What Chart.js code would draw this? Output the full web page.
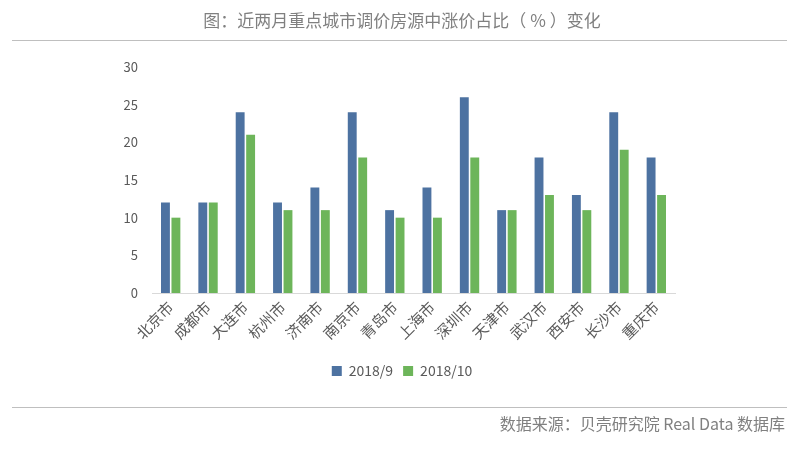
<!DOCTYPE html>
<html>
<head>
<meta charset="utf-8">
<script src="https://cdn.jsdelivr.net/npm/chart.js@4/dist/chart.umd.min.js"></script>
<style>
  html, body { margin:0; padding:0; background:#fff; }
  #wrap { position:relative; width:804px; height:449px; overflow:hidden; }
  #c { position:absolute; left:0; top:0; }
  .title { position:absolute; left:0; width:804px; top:9px; text-align:center; font-family:"Noto Sans CJK SC", sans-serif; font-size:17px; color:#808080; line-height:22px; }
  .hl { position:absolute; height:1px; background:#bfbfbf; }
  .foot { position:absolute; right:19px; top:412px; font-family:"Noto Sans CJK SC", sans-serif; font-size:16px; color:#808080; line-height:22px; }
</style>
</head>
<body>
<div id="wrap">
  <canvas id="c" width="804" height="449"></canvas>
  <div class="title">图：近两月重点城市调价房源中涨价占比（ % ）变化</div>
  <div class="hl" style="left:12px; width:775px; top:40px;"></div>
  <div class="hl" style="left:12px; width:775px; top:407px;"></div>
  <div class="foot">数据来源：贝壳研究院 Real Data 数据库</div>
</div>
<script>
const categories = ["北京市","成都市","大连市","杭州市","济南市","南京市","青岛市","上海市","深圳市","天津市","武汉市","西安市","长沙市","重庆市"];
const seriesNames = ["2018/9","2018/10"];
const sep2018 = [12,12,24,12,14,24,11,14,26,11,18,13,24,18];
const oct2018 = [10,12,21,11,11,18,10,10,18,11,13,11,19,13];
const yTicks = [0,5,10,15,20,25,30];

const font = "'Noto Sans CJK SC', sans-serif";
const centerLegend = {
  id: 'centerLegend',
  afterLayout(chart) {
    const lg = chart.legend;
    if (lg) { lg.left = 0; lg.right = chart.width; lg.width = chart.width; }
  }
};
new Chart(document.getElementById('c'), {
  type: 'bar',
  data: {
    labels: categories,
    datasets: [
      { label: seriesNames[0], data: sep2018, backgroundColor: '#4d72a1', barPercentage: 0.85, categoryPercentage: 0.56 },
      { label: seriesNames[1], data: oct2018, backgroundColor: '#6db55a', barPercentage: 0.85, categoryPercentage: 0.56 }
    ]
  },
  plugins: [centerLegend],
  options: {
    responsive: false,
    animation: false,
    devicePixelRatio: 1,
    layout: { padding: { left: 100, right: 129, top: 67, bottom: 61 } },
    plugins: {
      title: { display: false },
      tooltip: { enabled: false },
      legend: {
        position: 'bottom',
        labels: { boxWidth: 10, boxHeight: 10, padding: 10, color: '#595959', font: { family: font, size: 14 } }
      }
    },
    scales: {
      x: {
        grid: { display: false, drawTicks: false },
        border: { display: true, color: '#d9d9d9', width: 1 },
        ticks: { color: '#595959', font: { family: font, size: 15 }, minRotation: 45, maxRotation: 45, padding: 5 },
        afterFit: s => { s.height = 61; }
      },
      y: {
        min: 0, max: 30,
        afterBuildTicks: s => { s.ticks = yTicks.map(v => ({ value: v })); },
        grid: { display: false, drawTicks: false },
        border: { display: false },
        ticks: { color: '#595959', font: { family: font, size: 13 }, padding: 14 },
        afterFit: s => { s.width = 52; }
      }
    }
  }
});
</script>
</body>
</html>
